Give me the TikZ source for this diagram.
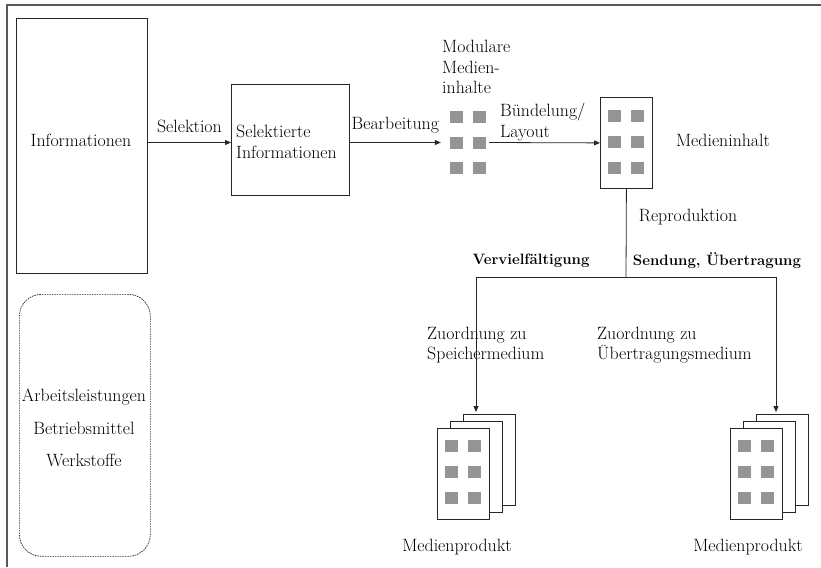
\documentclass[tikz,border=0pt]{standalone}
\usetikzlibrary{arrows.meta,calc}
\tikzset{
  box/.style={draw=black!85, line width=0.8pt, fill=white, inner sep=0pt},
  lbl/.style={font=\fontsize{17.8}{20.5}\selectfont, inner sep=0pt},
  blbl/.style={font=\fontsize{15}{19}\selectfont\bfseries, inner sep=0pt},
  sq/.style={fill=black!42, draw=none},
  arr/.style={-{Triangle[length=6pt,width=5pt]}, line width=0.8pt, draw=black!85},
  ln/.style={line width=0.8pt, draw=black!85},
  pagebox/.style={box, minimum width=52pt, minimum height=91pt, anchor=north west},
}
\newcommand\mysquares[2]{%
  \foreach \dx in {8,31}{\foreach \dy in {13,39,65}{%
    \fill[sq] ({#1+\dx},{#2+\dy}) rectangle ++(13,12);}}}
\begin{document}
\begin{tikzpicture}[x=1pt,y=-1pt]
\useasboundingbox (0,0) rectangle (821,567);
% frame
\draw[line width=1.6pt, draw=black!65] (7,567) -- (7,5) -- (821,5);

% Informationen
\node[box, minimum width=131pt, minimum height=255pt, anchor=north west] (info) at (16,18) {};
\node[lbl] (infot) at (81,140) {Informationen};

% Selektierte Informationen
\node[box, minimum width=118pt, minimum height=111pt, anchor=north west] (sel) at (231,84) {};
\node[lbl, anchor=west, align=left] (selt) at (236,142) {Selektierte\\Informationen};

% modular contents
\node[minimum width=48pt, minimum height=63pt, inner sep=0pt] (mod) at (465,142.5) {};
\foreach \cx in {450,473}{\foreach \cy in {111,137,162}{%
  \fill[sq] (\cx,\cy) rectangle ++(13,12);}}
\node[lbl, anchor=west, align=left] (modt) at (442,67) {Modulare\\Medien-\\inhalte};

% Medieninhalt
\node[pagebox] (inh) at (600,97) {};
\mysquares{600}{97}
\node[lbl] (inht) at (723,140) {Medieninhalt};

% arrows top row
\draw[arr] (info.east |- mod.west) -- node[lbl, above=9pt] (selk) {Selektion} (sel.west |- mod.west);
\draw[arr] (sel.east |- mod.west) -- node[lbl, above=9pt] (bearb) {Bearbeitung} (mod.west);
\draw[arr] (mod.east) -- (inh.west);
\node[lbl, anchor=west, align=left] (buend) at (500,122) {B\"undelung/\\Layout};

% reproduction split
\coordinate (split) at (626,277);
\coordinate (tipL) at (476,412);
\coordinate (tipR) at (776,412);
\draw[ln] (inh.south) -- (split);
\node[lbl] (repro) at (688,217) {Reproduktion};
\draw[arr] (split) -| (tipL);
\draw[arr] (split) -| (tipR);
\node[blbl] (verv) at (531,261) {Vervielf\"altigung};
\node[blbl] (send) at (717,261) {Sendung, \"Ubertragung};
\node[lbl, anchor=west, align=left] (zuo1) at (427,345) {Zuordnung zu\\Speichermedium};
\node[lbl, anchor=west, align=left] (zuo2) at (597,345) {Zuordnung zu\\\"Ubertragungsmedium};

% left stack
\node[pagebox] (l3) at (463,414) {};
\node[pagebox] (l2) at (450,421) {};
\node[pagebox] (l1) at (437,428) {};
\mysquares{437}{427}
\node[lbl] (lprod) at (457,547) {Medienprodukt};

% right stack
\node[pagebox] (r3) at (756,414) {};
\node[pagebox] (r2) at (743,421) {};
\node[pagebox] (r1) at (730,428) {};
\mysquares{730}{427}
\node[lbl] (rprod) at (748,547) {Medienprodukt};

% resources
\node[draw=black!85, line width=0.7pt, dash pattern=on 1.6pt off 0.9pt, rounded corners=22pt,
      minimum width=131pt, minimum height=262pt, anchor=north west] (res) at (19,294) {};
\node[lbl] (r1t) at (84,397) {Arbeitsleistungen};
\node[lbl] (r2t) at (84,428) {Betriebsmittel};
\node[lbl] (r3t) at (84,460) {Werkstoffe};
\end{tikzpicture}
\end{document}
